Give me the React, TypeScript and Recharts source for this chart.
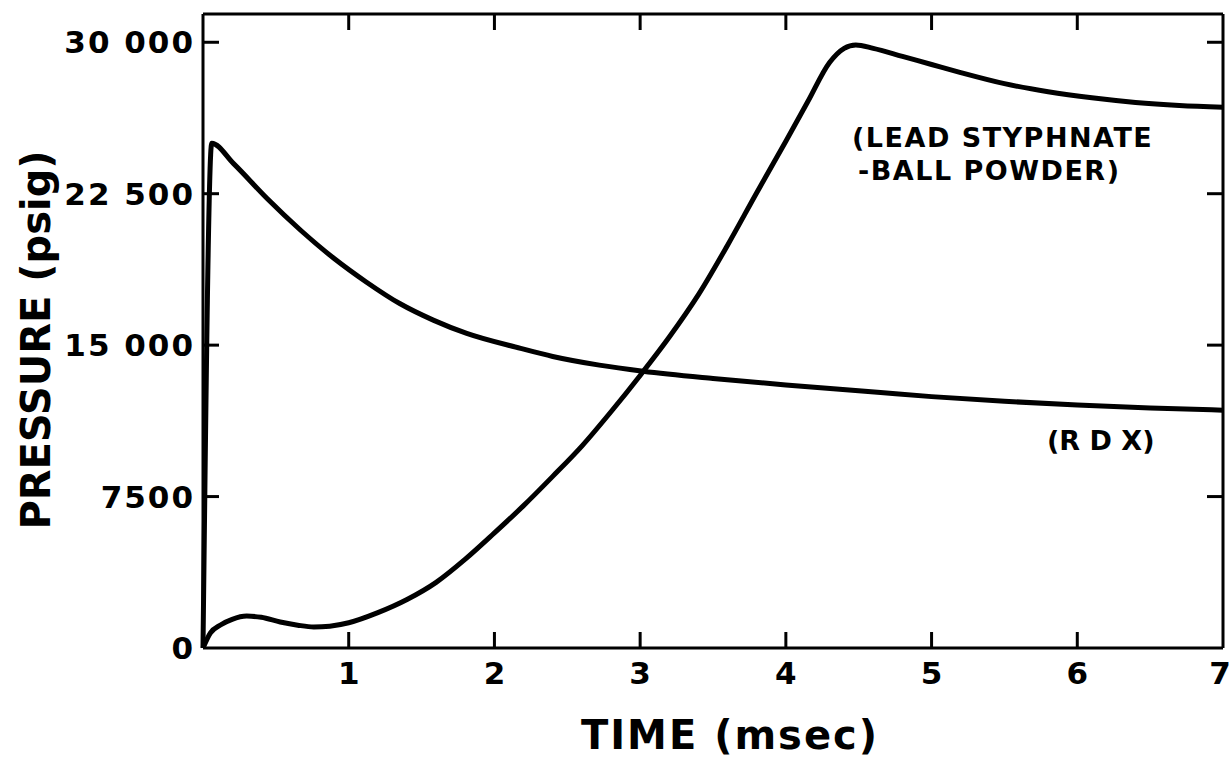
import { LineChart, Line, XAxis, YAxis, ReferenceLine } from 'recharts';

// RDX trace (time in msec, pressure in psig)
const rdxTime = [0, 0.06, 0.21, 0.44, 0.67, 0.9, 1.12, 1.35, 1.58, 1.81, 2.18, 2.4, 2.72, 3.02, 3.5, 4.0, 4.65, 5.0, 5.5, 6.0, 6.5, 7.0];
const rdxPressure = [0, 25000, 23990, 22260, 20690, 19290, 18130, 17060, 16240, 15580, 14840, 14440, 14010, 13710, 13350, 13030, 12650, 12450, 12220, 12030, 11890, 11780];

// lead styphnate - ball powder trace
const leadTime = [0, 0.05, 0.12, 0.2, 0.3, 0.4, 0.53, 0.65, 0.76, 0.87, 1.0, 1.2, 1.4, 1.6, 1.8, 2.0, 2.2, 2.4, 2.6, 2.8, 3.0, 3.2, 3.4, 3.6, 3.8, 4.0, 4.15, 4.3, 4.4, 4.48, 4.6, 4.8, 5.0, 5.2, 5.5, 5.8, 6.1, 6.4, 6.7, 7.0];
const leadPressure = [0, 740, 1140, 1420, 1580, 1520, 1290, 1130, 1040, 1080, 1250, 1750, 2400, 3250, 4400, 5700, 7050, 8500, 10000, 11700, 13500, 15400, 17500, 19950, 22550, 25100, 27050, 29000, 29700, 29870, 29700, 29300, 28900, 28500, 27950, 27550, 27250, 27020, 26870, 26780];

const xTicks = [1, 2, 3, 4, 5, 6, 7];
const yTicks = [0, 7500, 15000, 22500, 30000];
const yTickLabels = ['0', '7500', '15 000', '22 500', '30 000'];

const rdxData = rdxTime.map((t, i) => ({ t, p: rdxPressure[i] }));
const leadData = leadTime.map((t, i) => ({ t, p: leadPressure[i] }));

const FONT = '"DejaVu Sans", sans-serif';
const X_MAX = 7;
const Y_MAX = 31400;
// plot frame, in pixels
const PLOT_LEFT = 203;
const PLOT_RIGHT = 1223;
const PLOT_TOP = 14;
const PLOT_BOTTOM = 648;
const TICK_LEN = 16;
// inward tick length expressed in axis units
const tickDx = (TICK_LEN / (PLOT_RIGHT - PLOT_LEFT)) * X_MAX;
const tickDy = (TICK_LEN / (PLOT_BOTTOM - PLOT_TOP)) * Y_MAX;

const BottomTick = ({ x, y, payload }: any) => (
  <text
    x={payload.value === X_MAX ? x - 3 : x}
    y={y}
    textAnchor="middle"
    fontFamily={FONT}
    fontWeight={700}
    fontSize={31}
    fill="#000"
  >
    {payload.value}
  </text>
);

const LeftTick = ({ x, y, payload }: any) => (
  <text
    x={x}
    y={y + 11}
    textAnchor="end"
    fontFamily={FONT}
    fontWeight={700}
    fontSize={31}
    letterSpacing={2}
    fill="#000"
  >
    {yTickLabels[yTicks.indexOf(payload.value)]}
  </text>
);

const frame = { stroke: '#000', strokeWidth: 3 };

export default function App() {
  const innerX = xTicks.filter((t) => t < X_MAX);
  const innerY = yTicks.filter((v) => v > 0);
  return (
    <div style={{ position: 'absolute', left: 0, top: 0, width: 1232, height: 759, background: '#fff' }}>
      <LineChart width={1232} height={759} margin={{ top: PLOT_TOP, right: 1232 - PLOT_RIGHT, bottom: 0, left: 0 }}>
        <XAxis
          dataKey="t"
          type="number"
          domain={[0, X_MAX]}
          ticks={xTicks}
          height={759 - PLOT_BOTTOM}
          tickSize={0}
          tickMargin={36}
          tickLine={false}
          axisLine={frame}
          tick={<BottomTick />}
          allowDuplicatedCategory={false}
        />
        <YAxis
          type="number"
          domain={[0, Y_MAX]}
          ticks={yTicks}
          width={PLOT_LEFT}
          tickSize={0}
          tickMargin={8}
          tickLine={false}
          axisLine={frame}
          tick={<LeftTick />}
        />
        <ReferenceLine y={Y_MAX} {...frame} />
        <ReferenceLine x={X_MAX} {...frame} />
        {innerX.map((t) => (
          <ReferenceLine key={`b${t}`} segment={[{ x: t, y: 0 }, { x: t, y: tickDy }]} {...frame} />
        ))}
        {innerX.map((t) => (
          <ReferenceLine key={`t${t}`} segment={[{ x: t, y: Y_MAX }, { x: t, y: Y_MAX - tickDy }]} {...frame} />
        ))}
        {innerY.map((v) => (
          <ReferenceLine key={`l${v}`} segment={[{ x: 0, y: v }, { x: tickDx, y: v }]} {...frame} />
        ))}
        {innerY.map((v) => (
          <ReferenceLine key={`r${v}`} segment={[{ x: X_MAX, y: v }, { x: X_MAX - tickDx, y: v }]} {...frame} />
        ))}
        <Line
          data={rdxData}
          dataKey="p"
          type="monotone"
          stroke="#000"
          strokeWidth={5}
          dot={false}
          activeDot={false}
          isAnimationActive={false}
        />
        <Line
          data={leadData}
          dataKey="p"
          type="monotone"
          stroke="#000"
          strokeWidth={5}
          dot={false}
          activeDot={false}
          isAnimationActive={false}
        />
      </LineChart>
      <svg
        width={1232}
        height={759}
        style={{ position: 'absolute', left: 0, top: 0, pointerEvents: 'none' }}
        fontFamily={FONT}
        fontWeight={700}
      >
        <text x={852} y={147} fontSize={27} letterSpacing={1.5}>(LEAD STYPHNATE</text>
        <text x={858} y={180} fontSize={27} letterSpacing={1.5}>-BALL POWDER)</text>
        <text x={1047} y={450} fontSize={27}>(R D X)</text>
        <text x={730} y={749} fontSize={40} letterSpacing={2} textAnchor="middle">TIME (msec)</text>
        <text x={50} y={340} fontSize={40} textAnchor="middle" transform="rotate(-90 50 340)">
          PRESSURE (psig)
        </text>
      </svg>
    </div>
  );
}
